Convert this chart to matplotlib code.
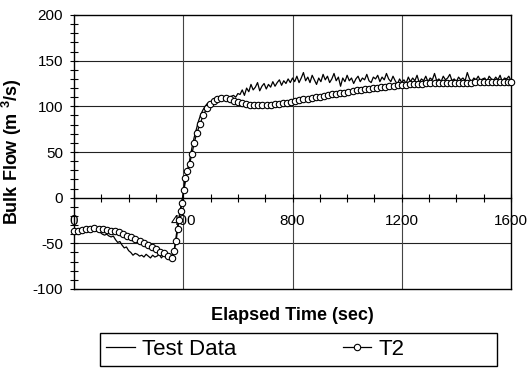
import matplotlib
matplotlib.use('Agg')
import matplotlib.pyplot as plt
import numpy as np
from matplotlib.ticker import MultipleLocator
from matplotlib.patches import Rectangle

plt.rcParams['font.family'] = ['Liberation Sans', 'DejaVu Sans']
plt.rcParams['mathtext.fontset'] = 'custom'
plt.rcParams['mathtext.rm'] = 'Liberation Sans'
plt.rcParams['mathtext.bf'] = 'Liberation Sans:bold'
plt.rcParams['axes.unicode_minus'] = False

# ---- Data ----
test_time = np.arange(0, 1601, 8)
test_flow = [
    -35, -36, -35, -34, -35, -36, -35, -34, -36, -35, -37, -36, -38,
    -40, -41, -40, -42, -43, -42, -46, -49, -48, -52, -55, -54, -58,
    -60, -63, -61, -62, -64, -63, -65, -62, -64, -66, -63, -65,
    -64, -62, -66, -63, -65, -64, -67, -63,
    -55, -38, -22, -8, 4,
    18, 30, 42, 55, 66, 75, 84, 91, 96, 100, 103, 104,
    105, 106, 107, 106, 108, 107, 109, 110, 109, 111, 112, 110, 114,
    113, 118, 112, 120, 116, 124, 118, 121, 126, 117, 122, 125,
    119, 124, 121, 127, 122, 126, 129, 123, 128, 125, 130, 126, 131,
    127, 133, 126, 131, 137, 128, 132, 126, 134, 129, 124, 131,
    127, 135, 129, 133, 126, 130, 136, 128, 132, 122, 131, 127, 134,
    128, 131, 125, 130, 133, 127, 131, 129, 135, 128, 126, 132,
    130, 134, 127, 132, 129, 136, 130, 127, 133, 128, 124, 130, 126,
    129, 125, 132, 127, 131, 128, 134, 126, 130, 128, 133, 127,
    131, 129, 136, 128, 130, 127, 133, 129, 131, 135, 128, 130, 127,
    132, 129, 131, 128, 137, 130, 127, 131, 129, 133, 128, 130,
    131, 127, 133, 130, 128, 132, 129, 134, 127, 131, 130, 133, 128,
]

t2_time = [
    0, 15, 30, 45, 60, 75, 90, 105, 120, 135, 150, 165, 180, 195, 210, 225,
    240, 255, 270, 285, 300, 315, 330, 345, 360,
    367, 374, 380, 385, 390, 395, 401, 407, 415, 423, 432, 440, 450, 462,
    474, 487, 499, 512, 525,
    540, 555, 570, 585, 600, 615, 630, 645, 660, 675, 690, 705, 720, 735,
    750, 765, 780, 795, 810, 825, 840, 855, 870, 885, 900, 915, 930, 945,
    960, 975, 990, 1005, 1020, 1035, 1050, 1065, 1080, 1095, 1110, 1125,
    1140, 1155, 1170, 1185, 1200, 1215, 1230, 1245, 1260, 1275, 1290, 1305,
    1320, 1335, 1350, 1365, 1380, 1395, 1410, 1425, 1440, 1455, 1470, 1485,
    1500, 1515, 1530, 1545, 1560, 1575, 1590, 1600,
]
t2_flow = [
    -37, -36, -35, -34.5, -34, -33.5, -34, -34.5, -35, -36, -37, -38, -40,
    -41.5, -43.5, -45.5, -47.5, -49.5, -52, -54, -56.5, -59, -61, -63.5, -66,
    -58, -47, -34, -24, -15, -6, 8, 21, 29, 37, 48, 60, 71, 81,
    91, 98, 103, 106, 108,
    109, 109, 108, 106, 104.5, 103.5, 102.5, 102, 101.5, 101.5, 101.5, 101.5,
    102, 102.5, 103, 103.5, 104, 104.5, 105.5, 106.5, 107.5, 108.5, 109.5,
    110, 110.5, 111, 112, 113, 113.5, 114.5, 115, 116, 116.5, 117.5, 118,
    119, 119.5, 120, 120.5, 121, 121.5, 122, 122.5, 123, 123, 123.5, 124,
    124, 124.5, 124.5, 125, 125, 125, 125.5, 125.5, 125.5, 126, 126, 126,
    126, 126, 126, 126.5, 126.5, 126.5, 126.5, 126.5, 127, 127, 127, 127, 127,
]

x_major = [0, 400, 800, 1200, 1600]
y_major = [-100, -50, 0, 50, 100, 150, 200]

W, H = 532, 368
fig = plt.figure(figsize=(W / 100, H / 100), dpi=100)
ax = fig.add_axes([74 / W, 1 - 289 / H, 437 / W, 274 / H])
ax.set_xlim(0, 1600)
ax.set_ylim(-100, 200)

# grid
for yv in [-50, 50, 100, 150]:
    ax.axhline(yv, color='#222222', lw=0.8, zorder=1)
for xv in [400, 800, 1200]:
    ax.axvline(xv, color='#444444', lw=0.8, zorder=1)
ax.axhline(-100, color='black', lw=1.0, zorder=1, clip_on=False)

ax.plot(test_time, test_flow, color='black', lw=0.9, label='Test Data', zorder=3)
ax.plot(t2_time, t2_flow, color='black', lw=0.9, marker='o', ms=4.6,
        mfc='white', mec='black', mew=0.8, label='T2', zorder=4, clip_on=False)

ax.spines['bottom'].set_position(('data', 0))
for s in ax.spines.values():
    s.set_linewidth(1.0)

ax.set_xticks(x_major)
ax.set_yticks(y_major)
ax.xaxis.set_minor_locator(MultipleLocator(100))
ax.yaxis.set_minor_locator(MultipleLocator(10))
ax.tick_params(axis='both', which='both', direction='inout', width=0.8,
               length=6, labelsize=11)
ax.tick_params(axis='x', which='major', pad=9)
ax.tick_params(axis='y', which='major', pad=5)

ax.set_ylabel(r'Bulk Flow (m $^\mathbf{3}$/s)', fontsize=13, fontweight='bold')
ax.yaxis.set_label_coords(-0.115, 0.5)

fig.text(292 / W, 1 - 316 / H, 'Elapsed Time (sec)', ha='center', va='center',
         fontsize=13, fontweight='bold')

# legend
fig.patches.append(Rectangle((100 / W, 1 - 366 / H), 397 / W, 33 / H,
                             transform=fig.transFigure, fill=False,
                             edgecolor='black', lw=1.0))
fig.legend(loc='center left', bbox_to_anchor=(106 / W, 1 - 349.5 / H),
           ncol=2, frameon=False, fontsize=16, borderpad=0, borderaxespad=0,
           handlelength=1.3, handletextpad=0.3, columnspacing=4.8)

fig.savefig('out.png', dpi=100)
